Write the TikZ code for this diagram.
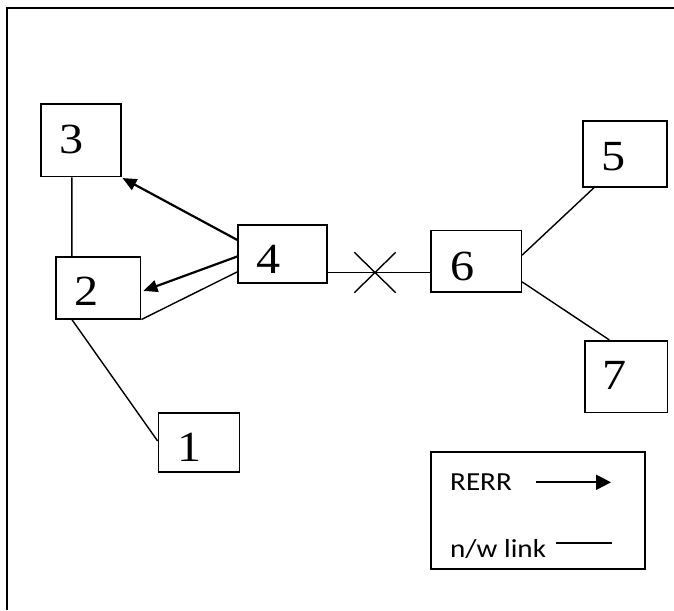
\documentclass[tikz,border=0pt]{standalone}
\usepackage{fontspec}
\setmainfont{Liberation Serif}
\newfontfamily\legendfont{Carlito}
\usetikzlibrary{arrows.meta}
\newcommand{\hstretch}[1]{\scalebox{1.12}[1]{#1}}
\tikzset{
  netbox/.style={draw, line width=1.6pt, rectangle, inner sep=0pt},
  digit/.style={inner sep=0pt, font=\fontsize{43}{43}\selectfont},
  legtext/.style={inner sep=0pt, anchor=base west, font=\legendfont\fontsize{26}{26}\selectfont},
  link/.style={line width=1.4pt},
  rerr/.style={line width=2.2pt, -{Triangle[length=14pt,width=12pt]}},
}
\begin{document}
\begin{tikzpicture}[x=1pt,y=-1pt]
\useasboundingbox (0,0) rectangle (674,610);
% outer frame (only top and left sides fall inside the page)
\draw[line width=2pt] (6.7,610) -- (6.7,8.3) -- (674,8.3);

% network nodes
\node[netbox, minimum width=80pt,   minimum height=72.7pt] (n3) at (80.7,140.3) {};
\node[netbox, minimum width=84.7pt, minimum height=62pt]   (n2) at (98.3,287.7) {};
\node[netbox, minimum width=89pt,   minimum height=58pt]   (n4) at (282.5,253.7) {};
\node[netbox, minimum width=90.6pt, minimum height=61.3pt] (n6) at (476,261.3) {};
\node[netbox, minimum width=84pt,   minimum height=66pt]   (n5) at (624.7,153.7) {};
\node[netbox, minimum width=82.3pt, minimum height=71.6pt] (n7) at (626.2,376.5) {};
\node[netbox, minimum width=81pt,   minimum height=58.7pt] (n1) at (198.9,442.4) {};

\node[digit] (d3) at (71.7,139.7) {\hstretch{3}};
\node[digit] (d2) at (87,291.7)   {\hstretch{2}};
\node[digit] (d4) at (269,259.7)  {\hstretch{4}};
\node[digit] (d6) at (462.7,266.7){\hstretch{6}};
\node[digit] (d5) at (613.3,156.3){\hstretch{5}};
\node[digit] (d7) at (614.5,375.5){\hstretch{7}};
\node[digit] (d1) at (189.5,447.8){\hstretch{1}};

% links
\draw[link] ([xshift=32pt]n3.south west) -- ([xshift=16.7pt]n2.north west);
\draw[link] ([xshift=16.7pt]n2.south west) -- ([yshift=-28.7pt]n1.north west);
\draw[link] ([yshift=-48pt]n4.north west) -- (n2.south east);
\draw[link] ([yshift=-25.3pt]n6.north east) -- ([xshift=12.3pt]n5.south west);
\draw[link] ([yshift=-52pt]n6.north east) -- ([xshift=25pt]n7.north west);

% broken link between 4 and 6
\coordinate (brk) at (375,272.5);
\draw[link] (brk -| n4.east) -- (brk -| n6.west);
\draw[link] ([shift={(-20.7,-20.2)}]brk) -- ([shift={(20.7,20.2)}]brk);
\draw[link] ([shift={(-20.7,20.2)}]brk) -- ([shift={(20.7,-20.2)}]brk);

% route error messages
\draw[rerr] ([yshift=-16pt]n4.north west) -- ([xshift=1pt,yshift=-0.6pt]n3.south east);
\draw[rerr] ([yshift=-32.6pt]n4.north west) -- ([xshift=2pt,yshift=-35pt]n2.north east);

% legend
\node[draw, line width=2pt, rectangle, inner sep=0pt, minimum width=214.6pt, minimum height=116.2pt] (legend) at (538,510.4) {};
\node[legtext] (lr) at (450,490.7) {\hstretch{RERR}};
\node[legtext] (ll) at (450,557.7) {\hstretch{n/w link}};
\coordinate (ra) at (536,482.3);
\coordinate (rb) at (611,482.3);
\coordinate (la) at (556,542.7);
\coordinate (lb) at (612,542.7);
\draw[line width=2.2pt, -{Triangle[length=15pt,width=15pt]}] (ra) -- (rb);
\draw[line width=1.7pt] (la) -- (lb);
\end{tikzpicture}
\end{document}
